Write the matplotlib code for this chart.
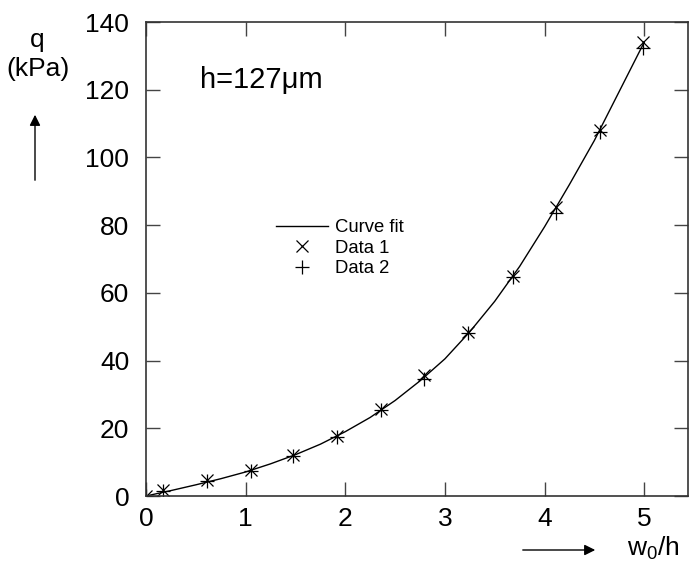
import numpy as np
import matplotlib
matplotlib.use("Agg")
import matplotlib.pyplot as plt

plt.rcParams['font.family'] = ['Liberation Sans', 'DejaVu Sans']

# data
x_data = [0.0, 0.17, 0.61, 1.05, 1.48, 1.92, 2.36, 2.79, 3.23, 3.68, 4.12, 4.56, 4.99]
data1 = [0.0, 1.8, 4.7, 7.7, 12.1, 17.7, 25.7, 35.6, 48.4, 65.0, 85.4, 108.1, 134.0]
data2 = [0.0, 1.6, 4.4, 7.4, 11.8, 17.4, 25.3, 34.6, 48.0, 64.6, 83.6, 107.6, 132.3]

# fitted curve as drawn
x_fit = [0.0, 0.25, 0.5, 0.75, 1.0, 1.25, 1.5, 1.75, 2.0, 2.25, 2.5, 2.75, 3.0,
         3.25, 3.5, 3.75, 4.0, 4.25, 4.5, 4.75, 5.0]
q_fit = [0.0, 1.6, 3.3, 5.1, 7.1, 9.5, 12.2, 15.3, 19.0, 23.2, 28.2, 34.0, 40.5,
         48.5, 57.5, 67.8, 79.5, 92.0, 105.0, 119.5, 134.0]

x_ticks = [0, 1, 2, 3, 4, 5]
y_ticks = [0, 20, 40, 60, 80, 100, 120, 140]

W, H = 689, 568
fig = plt.figure(figsize=(W / 100, H / 100), dpi=100)
ax = fig.add_axes([146 / W, 1 - 496 / H, (688 - 146) / W, (496 - 22) / H])

ax.plot(x_fit, q_fit, color='black', lw=1.0, label='Curve fit')
ax.plot(x_data, data1, ls='none', marker='x', ms=9, mew=0.9, color='black', label='Data 1')
ax.plot(x_data, data2, ls='none', marker='+', ms=10, mew=0.9, color='black', label='Data 2')

ax.set_xlim(0, 5.44)
ax.set_ylim(0, 140)
ax.set_xticks(x_ticks)
ax.set_yticks(y_ticks)
ax.tick_params(direction='in', length=10, width=1, top=True, right=True,
               labelsize=19, color='#444444')
ax.tick_params(axis='y', pad=12)
ax.tick_params(axis='x', pad=8)
for s in ax.spines.values():
    s.set_linewidth(1.2)
    s.set_color('#333333')

ax.legend(loc='upper left', bbox_to_anchor=(276 / W, 1 - 219 / H),
          bbox_transform=fig.transFigure, frameon=False, fontsize=13.3,
          handlelength=2.8, handletextpad=0.4, labelspacing=0.2,
          borderpad=0, borderaxespad=0)

ax.text(200 / W, 1 - 80 / H, 'h=127\u03bcm', transform=fig.transFigure,
        fontsize=21, va='center', ha='left')

# y axis label with arrow
fig.text(37 / W, 1 - 40 / H, 'q', fontsize=19, ha='center', va='center')
fig.text(38 / W, 1 - 69 / H, '(kPa)', fontsize=19, ha='center', va='center')
fig.add_artist(matplotlib.patches.FancyArrowPatch(
    (35 / W, 1 - 183 / H), (35 / W, 1 - 112 / H), transform=fig.transFigure,
    arrowstyle='-|>', mutation_scale=16, lw=1, color='black'))

# x axis label with arrow
fig.add_artist(matplotlib.patches.FancyArrowPatch(
    (520 / W, 1 - 550 / H), (598 / W, 1 - 550 / H), transform=fig.transFigure,
    arrowstyle='-|>', mutation_scale=16, lw=1, color='black'))
fig.text(627 / W, 1 - 548 / H, r'w$_{\mathregular{0}}$/h', fontsize=19, ha='left', va='center')

fig.savefig('out.png', dpi=100)
